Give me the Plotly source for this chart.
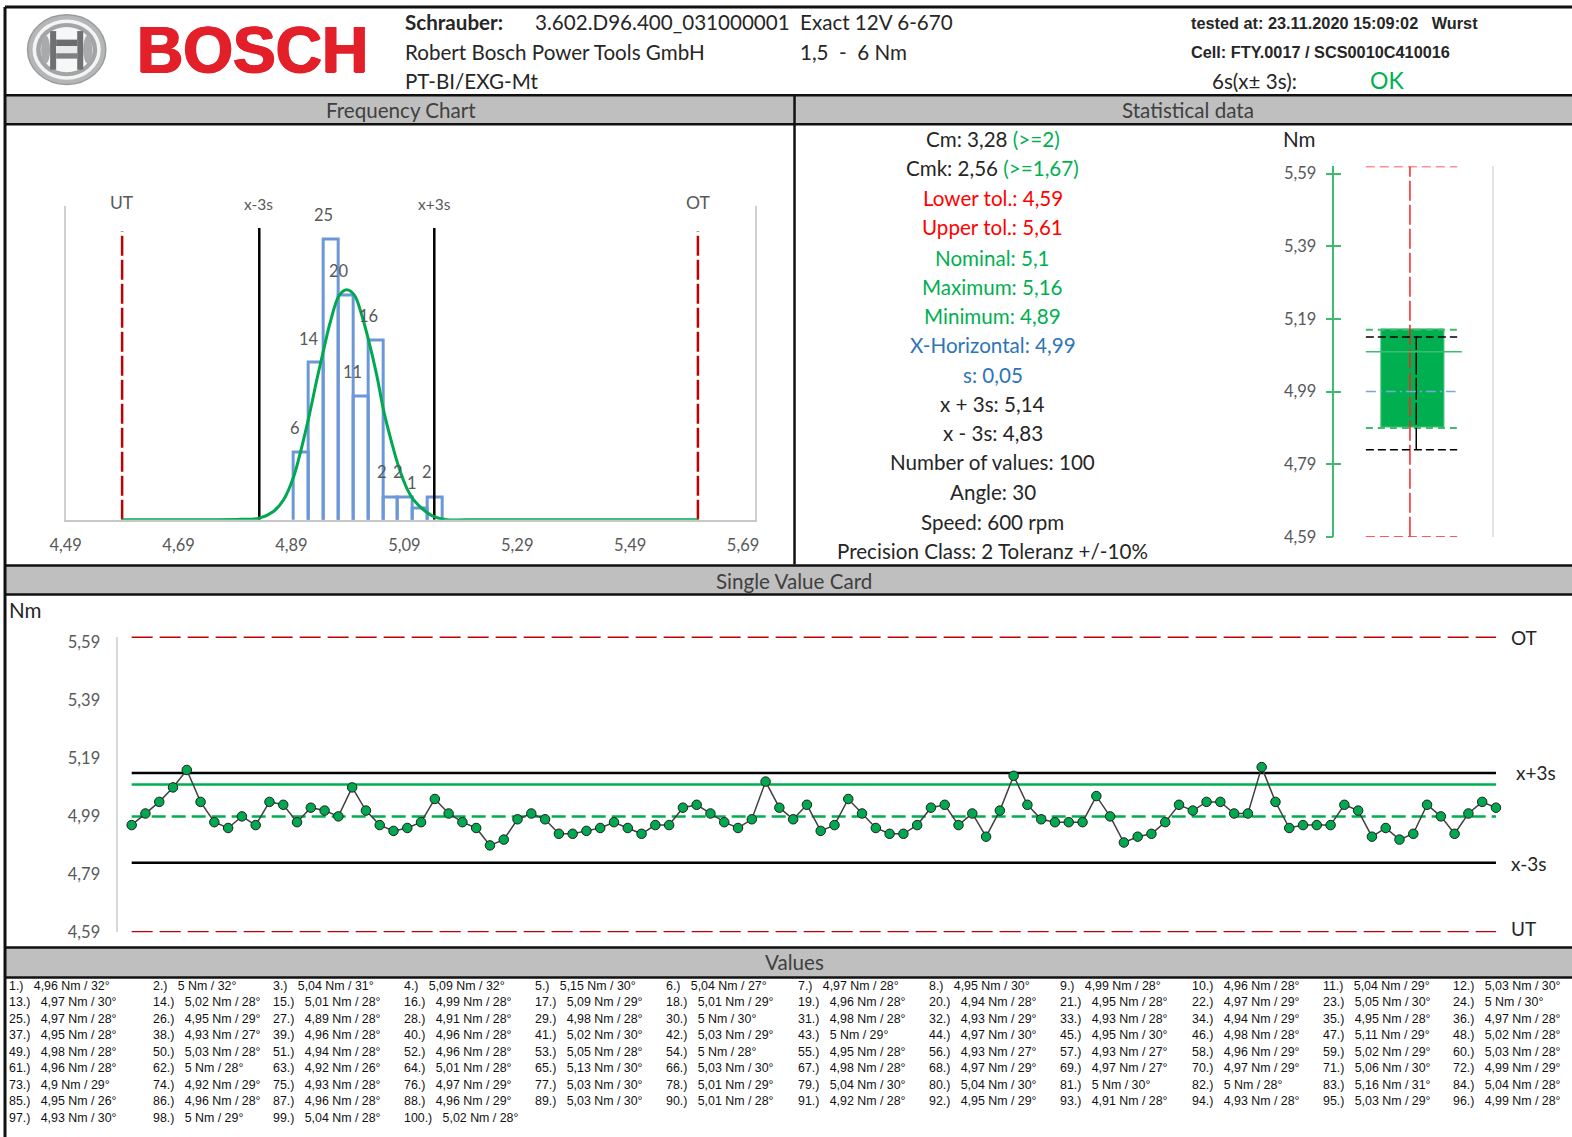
import plotly.graph_objects as go

W, H = 1572, 1137
S = W / 1568  # reading scale

# ---------- data ----------
torque = [4.96,5,5.04,5.09,5.15,5.04,4.97,4.95,4.99,4.96,5.04,5.03,
          4.97,5.02,5.01,4.99,5.09,5.01,4.96,4.94,4.95,4.97,5.05,5,
          4.97,4.95,4.89,4.91,4.98,5,4.98,4.93,4.93,4.94,4.95,4.97,
          4.95,4.93,4.96,4.96,5.02,5.03,5,4.97,4.95,4.98,5.11,5.02,
          4.98,5.03,4.94,4.96,5.05,5,4.95,4.93,4.93,4.96,5.02,5.03,
          4.96,5,4.92,5.01,5.13,5.03,4.98,4.97,4.97,4.97,5.06,4.99,
          4.9,4.92,4.93,4.97,5.03,5.01,5.04,5.04,5,5,5.16,5.04,
          4.95,4.96,4.96,4.96,5.03,5.01,4.92,4.95,4.91,4.93,5.03,4.99,
          4.93,5,5.04,5.02]
angles = [32,32,31,32,30,27,28,30,28,28,29,30,
          30,28,28,28,29,29,28,28,28,29,30,30,
          28,29,28,28,28,30,28,29,28,29,28,28,
          28,27,28,28,30,29,29,30,30,28,29,28,
          28,28,28,28,28,28,28,27,27,29,29,28,
          28,28,26,28,30,30,28,29,27,29,30,29,
          29,29,28,29,30,29,30,30,30,28,31,28,
          26,28,28,29,30,28,28,29,28,28,29,28,
          30,29,28,28]
bin_centers = [4.9077,4.9340,4.9604,4.9867,5.0130,5.0394,5.0657,5.0921,5.1184,5.1447]
bin_counts = [6,14,25,20,11,16,2,2,1,2]
curve_x = [4.59,4.75,4.80,4.833,4.858,4.876,4.894,4.9055,4.921,4.935,4.9486,4.9587,4.9746,4.988,5.0017,5.0147,5.0266,5.0414,5.053,5.068,5.0795,5.0944,5.106,5.124,5.1416,5.165,5.20,5.61]
curve_y = [0,0,0.04,0.15,0.74,1.79,3.87,5.95,9.2,12.5,15.5,17.6,20,20.5,20,18.2,16,12.8,9.8,6.8,4.8,2.8,1.8,0.9,0.3,0,0,0]
hist_ticks = [4.49,4.69,4.89,5.09,5.29,5.49,5.69]
nm_ticks = [4.59,4.79,4.99,5.19,5.39,5.59]
LT, UT_ = 4.59, 5.61
NOM, XBAR, MAXV, MINV, XP3, XM3 = 5.1, 4.99, 5.16, 4.89, 5.14, 4.83
HIST_XP3, HIST_XM3 = 5.143, 4.833
stat_rows = [
 ("Cm: 3,28 ", "#262626", "(>=2)", "#00B050"),
 ("Cmk: 2,56 ", "#262626", "(>=1,67)", "#00B050"),
 ("Lower tol.: 4,59", "#FF0000", "", ""),
 ("Upper tol.: 5,61", "#FF0000", "", ""),
 ("Nominal: 5,1", "#00B050", "", ""),
 ("Maximum: 5,16", "#00B050", "", ""),
 ("Minimum: 4,89", "#00B050", "", ""),
 ("X-Horizontal: 4,99", "#2E75B6", "", ""),
 ("s: 0,05", "#2E75B6", "", ""),
 ("x + 3s: 5,14", "#262626", "", ""),
 ("x - 3s: 4,83", "#262626", "", ""),
 ("Number of values: 100", "#262626", "", ""),
 ("Angle: 30", "#262626", "", ""),
 ("Speed: 600 rpm", "#262626", "", ""),
 ("Precision Class: 2 Toleranz +/-10%", "#262626", "", ""),
]
stat_y = [139,168,197,226,257,286,315,344,374,403,432,461,491,521,550]

# ---------- helpers ----------
C = "Lato"
A = "Liberation Sans"
MAIN = 20.6
def px(x): return x * S / W
def py(y): return 1 - y * S / H
def comma(v): return f"{v:g}".replace(".", ",")
def fmt2(v): return f"{v:.2f}".replace(".", ",")

annots, shapes = [], []
def txt(x, y, t, size=MAIN, color="#262626", anchor="left", font=C, **kw):
    if anchor == "left":
        x -= 2
    annots.append(dict(x=px(x), y=py(y), xref="paper", yref="paper", text=t, showarrow=False,
                       xanchor=anchor, yanchor="middle", align=anchor,
                       font=dict(family=font, size=size, color=color, **kw)))
def hline(x0, x1, y, w=2.5, c="#111111"):
    shapes.append(dict(type="line", xref="paper", yref="paper", x0=px(x0), x1=px(x1), y0=py(y), y1=py(y), line=dict(color=c, width=w)))
def vline(x, y0, y1, w=2.5, c="#111111"):
    shapes.append(dict(type="line", xref="paper", yref="paper", x0=px(x), x1=px(x), y0=py(y0), y1=py(y1), line=dict(color=c, width=w)))
def band(y0, y1):
    shapes.append(dict(type="rect", xref="paper", yref="paper", x0=px(5), x1=1, y0=py(y0), y1=py(y1), fillcolor="#BFBFBF", line=dict(width=0)))
    hline(5, 1568, y0); hline(5, 1568, y1)
def ell(cx, cy, rx, ry, fill, line="rgba(0,0,0,0)", w=1):
    shapes.append(dict(type="circle", xref="paper", yref="paper", x0=px(cx-rx), x1=px(cx+rx), y0=py(cy-ry), y1=py(cy+ry),
                       fillcolor=fill, line=dict(color=line, width=w)))
def rect(x0, x1, y0, y1, fill):
    shapes.append(dict(type="rect", xref="paper", yref="paper", x0=px(x0), x1=px(x1), y0=py(y0), y1=py(y1),
                       fillcolor=fill, line=dict(width=0)))

# ---------- frame ----------
band(95, 124); band(564, 593); band(945, 975)
hline(5, 1568, 7, 3)
vline(5, 7, 1134, 3)
vline(792.5, 95, 563, 2.5)

# ---------- logo ----------
LX, LY = 66.5, 49.5
ell(LX, LY, 39, 34.7, "#B4B6B8", "#9A9C9E", 1.5)
ell(LX, LY, 34, 30, "#F4F4F4")
ell(LX, LY, 30.5, 26.5, "#A2A4A6")
ell(LX, LY, 26, 22.5, "#F7F7F7")
ell(LX-21, LY, 4.5, 14, "#A8AAAC")
ell(LX+21, LY, 4.5, 14, "#A8AAAC")
rect(LX-16.5, LX-10.5, LY-18.5, LY+20, "#6E7072")
rect(LX+10.5, LX+16.5, LY-18.5, LY+20, "#6E7072")
rect(LX-10.5, LX+10.5, LY-10, LY-3.5, "#6A6C6E")
rect(LX-10.5, LX+10.5, LY+3.5, LY+9, "#7E8082")
rect(LX-10.5, LX+10.5, LY-3.5, LY+3.5, "#E9EAEB")
txt(252, 50, "<b>BOSCH</b>", 64, "#E3202A", "center", A, shadow="1px 0 0 #E3202A, -1px 0 0 #E3202A, 0 1px 0 #E3202A")

# ---------- header ----------
txt(404, 22, "<b>Schrauber:</b>")
txt(534, 22, "3.602.D96.400_031000001")
txt(798, 22, "Exact 12V 6-670")
txt(404, 52, "Robert Bosch Power Tools GmbH")
txt(798, 52, "1,5  -  6 Nm".replace("  ", "\u00a0\u00a0"))
txt(404, 81, "PT-BI/EXG-Mt")
txt(1188, 23, "<b>tested at: 23.11.2020 15:09:02\u00a0\u00a0\u00a0Wurst</b>", 16.3, "#262626", "left", A)
txt(1188, 52, "<b>Cell: FTY.0017 / SCS0010C410016</b>", 16.3, "#262626", "left", A)
txt(1209, 81, "6s(x± 3s):")
txt(1367, 80, "OK", 23, "#00B050")

txt(400, 110, "Frequency Chart", MAIN, "#404040", "center")
txt(1185, 110, "Statistical data", MAIN, "#404040", "center")
txt(792, 580, "Single Value Card", MAIN, "#404040", "center")
txt(792, 960, "Values", MAIN, "#404040", "center")

# ---------- statistics text ----------
for (a, ca, b, cb), y in zip(stat_rows, stat_y):
    t = f'<span style="color:{ca}">{a}</span>'
    if b:
        t += f'<span style="color:{cb}">{b}</span>'
    txt(990, y, t, MAIN, ca, "center")
txt(1296, 139, "Nm", MAIN, "#262626", "center")

# ---------- frequency labels ----------
for x, y, t in [(323,214,"25"),(338,270,"20"),(368,315,"16"),(308,338,"14"),(352,371,"11"),(294,427,"6"),
                (381,471,"2"),(397,471,"2"),(411,482,"1"),(426,471,"2")]:
    txt(x, y, t, 16.5, "#595959", "center")
for x, y, t in [(122,202,"UT"),(258,203,"x-3s"),(433,203,"x+3s"),(696,202,"OT")]:
    txt(x, y, t, 17.5 if len(t) == 2 else 15.5, "#595959", "center")

# ---------- single value labels ----------
txt(25, 608, "Nm", MAIN, "#262626", "center")
for x, y, t in [(1520,636,"OT"),(1532,771,"x+3s"),(1525,861,"x-3s"),(1520,926,"UT")]:
    txt(x, y, t, 19, "#262626", "center")

# ---------- value table ----------
col_x = [6.5, 151, 271.2, 402.5, 532.9, 664.2, 795.5, 926.9, 1058.1, 1189.5, 1320.9, 1451.2]
for i, (v, a) in enumerate(zip(torque, angles)):
    r, c = divmod(i, 12)
    t = f"{i+1}.)\u00a0\u00a0\u00a0{comma(v)} Nm / {a}°"
    annots.append(dict(x=col_x[c] / W, y=1 - (986 + 16.45 * r) / H, xref="paper", yref="paper", text=t, showarrow=False,
                       xanchor="left", yanchor="middle", font=dict(family=A, size=12.4, color="#111111")))

# ---------- traces ----------
fig = go.Figure()
def ln(x, y, color, width, dash="solid", ax="", shape="linear"):
    fig.add_trace(go.Scatter(x=x, y=y, mode="lines", cliponaxis=False, showlegend=False, hoverinfo="skip",
                             line=dict(color=color, width=width, dash=dash, shape=shape),
                             xaxis="x"+ax, yaxis="y"+ax))

RED, DRED, GRN = "#FF2020", "#C00000", "#00B050"
# frequency chart: the bars start just under the axis so that their outline has no visible bottom edge
BAR_FOOT = 0.25
fig.add_trace(go.Bar(x=bin_centers, y=[c + BAR_FOOT for c in bin_counts], base=[-BAR_FOOT]*10, width=[0.0263]*10,
                     marker=dict(color="rgba(255,255,255,0)", line=dict(color="#6C98D8", width=3)),
                     showlegend=False, hoverinfo="skip", xaxis="x", yaxis="y"))
ln([LT, LT], [0, 25.7], DRED, 2.5, "20px,4px")
ln([UT_, UT_], [0, 25.7], DRED, 2.5, "20px,4px")
ln([HIST_XM3, HIST_XM3], [0, 26], "#000000", 2.5)
ln([HIST_XP3, HIST_XP3], [0, 26], "#000000", 2.5)
ln(curve_x, curve_y, "#00A84F", 3, "solid", "", "spline")

# box chart
BX0, BX1, BC, BW = 0.20, 0.78, 0.50, 0.40
fig.add_trace(go.Bar(x=[BC], y=[MAXV-MINV], base=[MINV], width=[BW], marker=dict(color=GRN, line=dict(color="#3DBB70", width=1)),
                     showlegend=False, hoverinfo="skip", xaxis="x2", yaxis="y2"))
ln([BX0, BX1], [UT_, UT_], RED, 1.5, "9px,5px", "2")
ln([BX0, BX1], [LT, LT], RED, 1.5, "9px,5px", "2")
ln([0.48, 0.48], [LT, UT_], RED, 1.5, "20px,4px", "2")
ln([BX0, BX1+0.03], [NOM, NOM], "#3DBB70", 1.5, "solid", "2")
ln([BX0, BX1], [MAXV, MAXV], "#3DBB70", 2, "7px,5px", "2")
ln([BX0, BX1], [MINV, MINV], "#3DBB70", 2, "7px,5px", "2")
ln([BX0, BX1], [XP3, XP3], "#000000", 1.5, "8px,4px", "2")
ln([BX0, BX1], [XM3, XM3], "#000000", 1.5, "8px,4px", "2")
ln([0.52, 0.52], [XM3, XP3], "#000000", 1.5, "22px,3px", "2")
ln([BX0, BX1-0.01], [XBAR, XBAR], "#7DA7DC", 1.5, "10px,4px,2px,4px", "2")

# single value chart
n = len(torque)
idx = list(range(1, n + 1))
ln([1, n], [UT_, UT_], DRED, 2.8, "21px,7px", "3")
ln([1, n], [LT, LT], DRED, 2.8, "21px,7px", "3")
ln([1, n], [XP3, XP3], "#000000", 2.5, "solid", "3")
ln([1, n], [XM3, XM3], "#000000", 2.5, "solid", "3")
ln([1, n], [NOM, NOM], GRN, 2.4, "solid", "3")
ln([1, n], [XBAR, XBAR], GRN, 2.5, "14px,6px", "3")
fig.add_trace(go.Scatter(x=idx, y=torque, mode="lines+markers", cliponaxis=False, showlegend=False, hoverinfo="skip",
                         line=dict(color="#404040", width=1.5),
                         marker=dict(color="#00A84F", size=9.5, line=dict(color="#1f1f1f", width=1)),
                         xaxis="x3", yaxis="y3"))

# ---------- axes ----------
def dom(a, b, total): return [a * S / total, b * S / total]
def ydom(top, bot): return [1 - bot * S / H, 1 - top * S / H]
GR = "#595959"
lab = dict(family=C, size=16.5, color=GR)
layout = dict(
    template="none",
    width=W, height=H, autosize=False, margin=dict(l=0, r=0, t=0, b=0, pad=0), paper_bgcolor="white", plot_bgcolor="rgba(0,0,0,0)",
    bargap=0,
    xaxis=dict(domain=dom(65.5, 753, W), range=[4.49, 5.711], anchor="y", tickvals=hist_ticks, ticktext=[fmt2(v) for v in hist_ticks],
               tickfont=lab, showgrid=False, zeroline=False, showline=True, linecolor="#C8C8C8", linewidth=2,
               ticks="", ticklabelstandoff=9, automargin=False, layer="below traces"),
    yaxis=dict(domain=ydom(205, 518.5), range=[0, 28], anchor="x", showticklabels=False, ticks="", showgrid=False, zeroline=False,
               showline=True, linecolor="#D0D0D0", linewidth=1.5, mirror=True, automargin=False),
    xaxis2=dict(domain=dom(1331, 1488, W), range=[0, 1], anchor="y2", visible=False, automargin=False),
    yaxis2=dict(domain=ydom(166, 535.5), range=[LT, UT_], anchor="x2", tickvals=nm_ticks, ticktext=[fmt2(v) for v in nm_ticks],
                tickfont=lab, ticks="outside", ticklen=7, tickwidth=1.5, tickcolor="#3DBB70", showgrid=False, zeroline=False,
                showline=True, linecolor="#3DBB70", linewidth=1.5, ticklabelstandoff=6, automargin=False),
    yaxis4=dict(overlaying="y2", anchor="x2", range=[LT, UT_], side="left", tickvals=nm_ticks, showticklabels=False, ticks="inside",
                ticklen=7, tickwidth=1.5, tickcolor="#3DBB70", showgrid=False, zeroline=False, showline=False, automargin=False),
    yaxis5=dict(overlaying="y2", anchor="x2", range=[LT, UT_], side="right", showticklabels=False, ticks="", showgrid=False,
                zeroline=False, showline=True, linecolor="#E3E3E3", linewidth=2, automargin=False),
    xaxis3=dict(domain=dom(118, 1496, W), range=[0.03, 100.28], anchor="y3", visible=False, automargin=False),
    yaxis3=dict(domain=ydom(635, 930), range=[LT, UT_], anchor="x3", tickvals=nm_ticks, ticktext=[fmt2(v) for v in nm_ticks],
                tickfont=lab, ticks="", showgrid=False, zeroline=False, showline=True, linecolor="#D9D9D9", linewidth=1.5,
                ticklabelstandoff=13, automargin=False),
    annotations=annots, shapes=shapes,
)
fig.update_layout(**layout)
# keep the overlay axes alive with an invisible trace each
fig.add_trace(go.Scatter(x=[BC], y=[XBAR], mode="markers", opacity=0, showlegend=False, hoverinfo="skip", xaxis="x2", yaxis="y4"))
fig.add_trace(go.Scatter(x=[BC], y=[XBAR], mode="markers", opacity=0, showlegend=False, hoverinfo="skip", xaxis="x2", yaxis="y5"))
fig.write_html("out.html", config=dict(displayModeBar=False), post_script="document.body.style.margin='0';document.body.style.overflow='hidden';")
